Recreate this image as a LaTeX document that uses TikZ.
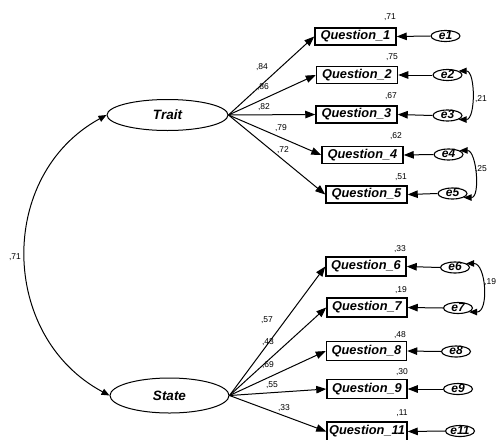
\documentclass[tikz,border=0pt]{standalone}
\usepackage{fontspec}
\setmainfont{Liberation Sans}
\usetikzlibrary{arrows.meta,shapes.geometric}
\tikzset{
  obs/.style={draw, line width=1.5pt, minimum width=81pt, minimum height=17pt, inner sep=0pt,
    font=\bfseries\itshape\fontsize{12.8}{14}\selectfont},
  lat/.style={draw, ellipse, line width=1pt, inner sep=0pt, text height=9pt, text depth=0pt,
    font=\bfseries\itshape\fontsize{13.5}{15}\selectfont},
  err/.style={draw, ellipse, line width=1.1pt, minimum width=29pt, minimum height=11pt, inner sep=0pt,
    text height=6pt, text depth=0pt, font=\bfseries\itshape\fontsize{12}{13}\selectfont},
  reg/.style={line width=1pt, -{Triangle[length=10pt,width=7.5pt]}},
  cov/.style={line width=1pt, {Triangle[length=8pt,width=6.5pt]}-{Triangle[length=8pt,width=6.5pt]}},
  lbl/.style={inner sep=0pt, font=\fontsize{8.5}{9}\selectfont},
}
\begin{document}
\begin{tikzpicture}[x=1pt,y=1pt]
\useasboundingbox (0,0) rectangle (497,-439);
% latent
\node[lat, minimum width=121pt, minimum height=31pt] (trait) at (167.5,-115) {Trait};
\node[lat, minimum width=119pt, minimum height=35pt] (state) at (169.5,-395.5) {State};
% observed
\node[obs] (q1) at (355.5,-36.5) {Question\_1};
\node[obs] (q2) at (357,-75) {Question\_2};
\node[obs] (q3) at (356.5,-114.5) {Question\_3};
\node[obs] (q4) at (362.5,-155) {Question\_4};
\node[obs] (q5) at (366.5,-194.5) {Question\_5};
\node[obs, minimum height=19pt, minimum width=80pt] (q6) at (366,-266.5) {Question\_6};
\node[obs, minimum height=19pt, minimum width=80pt] (q7) at (367,-307.5) {Question\_7};
\node[obs, minimum height=19pt, minimum width=80pt] (q8) at (366.5,-351) {Question\_8};
\node[obs, minimum height=19pt, minimum width=80pt] (q9) at (367,-389) {Question\_9};
\node[obs, minimum height=19pt, minimum width=80pt] (q11) at (367,-431.5) {Question\_11};
% errors
\node[err] (e1) at (445.5,-36) {e1};
\node[err] (e2) at (447.5,-75) {e2};
\node[err] (e3) at (447.5,-115.5) {e3};
\node[err] (e4) at (448.5,-154.5) {e4};
\node[err] (e5) at (452.5,-193.5) {e5};
\node[err] (e6) at (455,-267.5) {e6};
\node[err] (e7) at (458,-308) {e7};
\node[err] (e8) at (456,-351.5) {e8};
\node[err] (e9) at (458,-389) {e9};
\node[err] (e11) at (460,-431) {e11};
% loadings
\foreach \q in {q1,q2,q3,q4,q5} \draw[reg] (trait.east) -- (\q.west);
\foreach \q in {q6,q7,q8,q9,q11} \draw[reg] (state.east) -- (\q.west);
\foreach \e/\q in {e1/q1,e2/q2,e3/q3,e4/q4,e5/q5,e6/q6,e7/q7,e8/q8,e9/q9,e11/q11}
  \draw[reg] (\e.west) -- (\q.east);
% covariances
\draw[cov] (trait.west) to[out=208.7, in=151.9, distance=125pt] (state.west);
\draw[cov] (e2.20) to[out=0, in=0, distance=17pt] (e3.-20);
\draw[cov] (e4.20) to[out=0, in=0, distance=17pt] (e5.-20);
\draw[cov] (e6.20) to[out=0, in=0, distance=20pt] (e7.-20);
% labels
\node[lbl] (r1) at (390,-17) {,71};
\node[lbl] (r2) at (392,-57) {,75};
\node[lbl] (r3) at (391,-96) {,67};
\node[lbl] (r4) at (396,-136) {,62};
\node[lbl] (r5) at (401,-177) {,51};
\node[lbl] (r6) at (400,-249) {,33};
\node[lbl] (r7) at (401,-290) {,19};
\node[lbl] (r8) at (400,-335) {,48};
\node[lbl] (r9) at (402,-372) {,30};
\node[lbl] (r11) at (402,-413) {,11};
\node[lbl] (l1) at (262,-67) {,84};
\node[lbl] (l2) at (263,-87) {,86};
\node[lbl] (l3) at (264,-107) {,82};
\node[lbl] (l4) at (281,-128) {,79};
\node[lbl] (l5) at (283,-150) {,72};
\node[lbl] (l6) at (267,-320) {,57};
\node[lbl] (l7) at (268,-342) {,43};
\node[lbl] (l8) at (268,-365) {,69};
\node[lbl] (l9) at (272,-385) {,55};
\node[lbl] (l11) at (284,-408) {,33};
\node[lbl] (c23) at (481,-99) {,21};
\node[lbl] (c45) at (481,-169) {,25};
\node[lbl, anchor=west] (c67) at (484,-282) {,19};
\node[lbl] (cts) at (15,-257) {,71};
\end{tikzpicture}
\end{document}
